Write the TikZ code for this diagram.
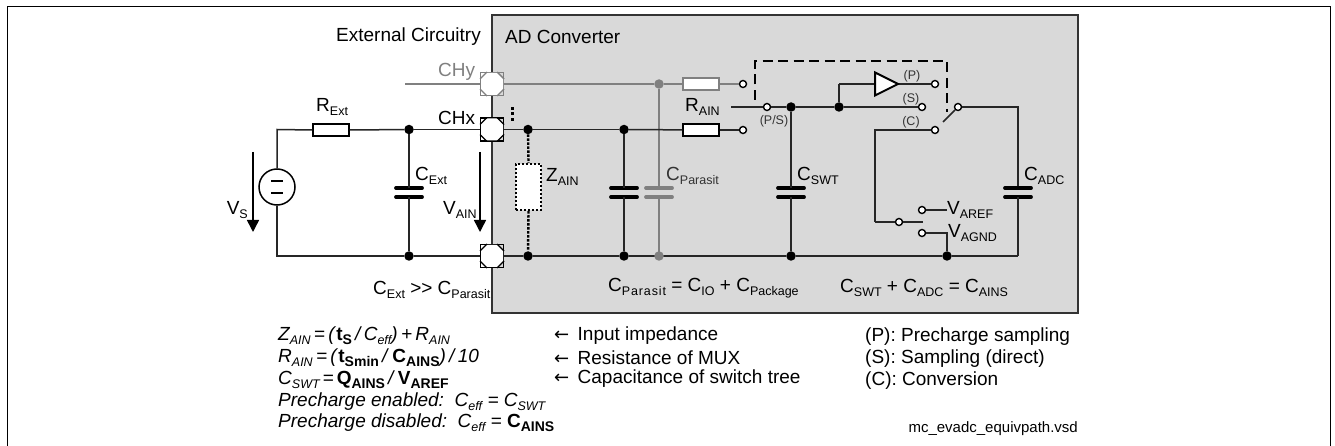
\documentclass[tikz,border=0pt]{standalone}
\usepackage{fontspec}
\setmainfont{Liberation Sans}
\newfontfamily\arrowfont{DejaVu Sans}
\usetikzlibrary{arrows.meta}
\definecolor{boxgray}{HTML}{D9D9D9}
\definecolor{wiregray}{HTML}{808080}
\newcommand{\fsmain}{\fontsize{19}{22}\selectfont}
\newcommand{\fssmall}{\fontsize{12.5}{14}\selectfont}
\newcommand{\sbs}[1]{\raisebox{-0.22em}{\fontsize{12.5}{14}\selectfont #1}}
\newcommand{\sbw}[1]{\raisebox{-0.22em}{\fontsize{12.5}{14}\selectfont\addfontfeatures{LetterSpace=7}#1}}
\newcommand{\ssb}[1]{\raisebox{-0.22em}{\fontsize{14}{14}\selectfont #1}}
\newcommand{\arr}{\makebox[23.5pt][l]{\arrowfont\fontsize{18}{20}\selectfont ←}}
\newcommand{\pinat}[4]{%
  \node[pinbox,draw=#4] (#1) at (#2,#3) {};
  \fill[white] (#2-11,#3-5) -- (#2-5,#3-11) -- (#2+5,#3-11) -- (#2+11,#3-5) -- (#2+11,#3+5) -- (#2+5,#3+11) -- (#2-5,#3+11) -- (#2-11,#3+5) -- cycle;
  \draw[line width=1.4pt,#4] (#2-12,#3-5) -- (#2-5,#3-12) (#2+5,#3-12) -- (#2+12,#3-5) (#2+12,#3+5) -- (#2+5,#3+12) (#2-5,#3+12) -- (#2-12,#3+5);
}
\newcommand{\capat}[5]{% name x ytop ybottom color: draws the two plates
  \coordinate (#1t) at (#2,#3);
  \coordinate (#1b) at (#2,#4);
  \draw[capplate,#5] (#2-13,#3) -- (#2+13,#3);
  \draw[capplate,#5] (#2-13,#4) -- (#2+13,#4);
}
\tikzset{
  x=1pt,y=-1pt,
  wire/.style={line width=1.5pt,black!85},
  graywire/.style={line width=1.5pt,wiregray},
  capplate/.style={line width=3.8pt,line cap=round},
  dotnode/.style={circle,fill=black,inner sep=0pt,minimum size=9.5pt},
  graydot/.style={circle,fill=wiregray,inner sep=0pt,minimum size=9.5pt},
  term/.style={circle,draw=black,fill=white,line width=1.4pt,inner sep=0pt,minimum size=7pt},
  res/.style={rectangle,draw=black,fill=white,line width=1.5pt,inner sep=0pt,minimum width=36pt,minimum height=12pt},
  pinbox/.style={rectangle,line width=1.5pt,inner sep=0pt,minimum size=23pt},
  txt/.style={inner sep=0pt,anchor=west,font=\fsmain},
  small/.style={inner sep=0pt,font=\fssmall,text=black!80},
  volt/.style={line width=1.5pt,-{Triangle[length=12pt,width=12pt]}},
  conn/.style={line width=2.4pt,dash pattern=on 2.4pt off 1.6pt},
  gang/.style={line width=2.4pt,dash pattern=on 10pt off 5.5pt},
}
\begin{document}
\begin{tikzpicture}
\useasboundingbox (0,0) rectangle (1335,446);
\fill[white] (0,0) rectangle (1335,446);
% frame
\coordinate (fbl) at (7,446); \coordinate (ftl) at (7,7); \coordinate (ftr) at (1330,7); \coordinate (fbr) at (1330,446);
\draw[line width=1pt] (fbl) -- (ftl) -- (ftr) -- (fbr);
% converter box
\node[draw=black!80,fill=boxgray,line width=1.3pt,inner sep=0pt,minimum width=586pt,minimum height=298pt] (adc) at (785,164) {};
% titles
\node[txt,anchor=east] (lext) at (481,37) {External Circuitry};
\node[txt] (ladc) at (505,37) {AD Converter};

% named points
\coordinate (blc) at (277,256);
\coordinate (tlc) at (277,129.5);
\coordinate (ctrlL) at (875,222);
\coordinate (ctrlT) at (875,130);
\coordinate (cadcT) at (1018,107);
\coordinate (cadcB) at (1018,256);
\coordinate (chyL) at (405,84);
\coordinate (g2c) at (659,256);

% gray channel
\node[graydot] (g1) at (659,84) {};
\node[term,draw=black] (tg) at (743,84) {};
\draw[graywire] (chyL) -- (492,84);
\pinat{chy}{492}{84}{wiregray}
\capat{cg}{659}{188}{197}{wiregray}
\node[txt,text=wiregray] (lchy) at (438,72) {CHy};
\draw[graywire] (chy.east) -- (g1);
\draw[graywire] (g1) -- (cgt);
\draw[graywire] (cgb) -- (g2c);
\node[res,draw=wiregray] (rg) at (701,84) {};
\draw[graywire] (g1) -- (rg);
\draw[graywire] (rg) -- (tg);

% external circuit
\pinat{chx}{492}{129.5}{black}
\pinat{pgnd}{492}{256}{black}
\node[res] (rext) at (331,130) {};
\node[dotnode] (n1) at (409,129.5) {};
\node[dotnode] (n2) at (409,256) {};
\node[circle,draw=black,fill=white,line width=1.5pt,inner sep=0pt,minimum size=36pt] (src) at (277,187) {};
\coordinate (mA1) at (271,181); \coordinate (mA2) at (283,181);
\coordinate (mB1) at (271,193); \coordinate (mB2) at (283,193);
\draw[line width=1.5pt] (mA1) -- (mA2) (mB1) -- (mB2);
\draw[wire] (src.north) -- (tlc) -- (rext.west);
\draw[wire] (rext.east) -- (n1);
\draw[wire] (n1) -- (chx.west);
\draw[wire] (src.south) -- (blc) -- (n2);
\draw[wire] (n2) -- (pgnd.west);
\capat{cx}{409}{188}{197}{black}
\draw[wire] (n1) -- (cxt);
\draw[wire] (cxb) -- (n2);
\node[txt] (lrext) at (316,107) {R\sbs{Ext}};
\node[txt] (lchx) at (438,118) {CHx};
\node[txt] (lcext) at (415,176) {C\sbs{Ext}};
\node[txt,anchor=east] (lvs) at (248,210) {V\sbs{S}};
\node[txt] (lvain) at (443,210) {V\sbs{AIN}};
\coordinate (vsT) at (253,152); \coordinate (vsB) at (253,232);
\coordinate (vaT) at (480,152); \coordinate (vaB) at (480,232);
\draw[volt] (vsT) -- (vsB);
\draw[volt] (vaT) -- (vaB);
\node[txt] (lratio) at (373,290) {C\sbs{Ext} \mbox{>}\mbox{>} C\sbs{Parasit}};

% converter input network
\node[dotnode] (n3) at (528,129.5) {};
\node[dotnode] (n4) at (528,256) {};
\node[dotnode] (n5) at (624,129.5) {};
\node[dotnode] (n6) at (624,256) {};
\node[dotnode] (n7) at (791,107) {};
\node[dotnode] (n8) at (791,256) {};
\node[dotnode] (n9) at (839,107) {};
\node[dotnode] (n10) at (947,256) {};
\node[rectangle,draw=black,fill=white,conn,dash pattern=on 2.4pt off 1.6pt,inner sep=0pt,minimum width=25pt,minimum height=46pt] (zain) at (528.5,187) {};
\draw[conn] (n3) -- (zain.north);
\draw[conn] (zain.south) -- (n4);
\node[res] (rain) at (701,130) {};
\node[term] (tr) at (743,130) {};
\draw[wire] (chx.east) -- (n3);
\draw[wire] (n3) -- (n5);
\draw[wire] (n5) -- (rain);
\draw[wire] (rain) -- (tr);
\draw[wire] (pgnd.east) -- (n4);
\draw[wire] (n4) -- (n6);
\draw[wire] (n6) -- (n8);
\draw[wire] (n8) -- (n10);
\draw[wire] (n10) -- (cadcB);
\node[graydot] (g2) at (g2c) {};
\capat{cp}{624}{188}{197}{black}
\draw[wire] (n5) -- (cpt);
\draw[wire] (cpb) -- (n6);
\foreach \yy in {107,112.5,118} {\fill (511,\yy) rectangle +(2.6,2.6);}
\node[txt] (lzain) at (546,177) {Z\sbs{AIN}};
\node[txt] (lrain) at (685,107) {R\sbs{AIN}};
\node[txt,text=black!80] (lcpar) at (666,176) {C\sbs{Parasit}};

% switch section
\coordinate (swL) at (731,107);
\node[term] (tps) at (767,107) {};
\node[term] (ts) at (922,107) {};
\node[term] (tp) at (935,84) {};
\node[term] (tc) at (935,130) {};
\node[term] (tarm) at (958,107) {};
\coordinate (armEnd) at (943,122);
\coordinate (ampUp) at (839,84);
\draw[wire] (swL) -- (tps);
\draw[wire] (tps) -- (n7);
\draw[wire] (n7) -- (n9);
\draw[wire] (n9) -- (ts);
\draw[wire] (n9) -- (ampUp);
\coordinate (ampIn) at (875,84);
\coordinate (ampOut) at (898,84);
\draw[wire] (ampUp) -- (ampIn);
\draw[wire] (ampOut) -- (tp);
\draw[line width=2pt,fill=white,line join=miter] (875,72.5) -- (ampOut) -- (875,95.5) -- cycle;
\draw[wire] (tarm) -- (armEnd);
\draw[wire] (tarm) -- (cadcT) -- (1018,188);
\capat{ca}{1018}{188}{197}{black}
\draw[wire] (cab) -- (cadcB);
\capat{cs}{791}{188}{197}{black}
\draw[wire] (n7) -- (cst);
\draw[wire] (csb) -- (n8);
\draw[wire] (tc) -- (ctrlT) -- (ctrlL);
\node[term] (tmid) at (899,222) {};
\coordinate (midEnd) at (923,222);
\draw[wire] (ctrlL) -- (tmid);
\draw[wire] (tmid) -- (midEnd);
\node[term] (tref) at (922,210) {};
\node[term] (tgnd) at (922,233) {};
\coordinate (refEnd) at (947,210);
\coordinate (gndEnd) at (947,233);
\draw[wire] (tref) -- (refEnd);
\draw[wire] (tgnd) -- (gndEnd) -- (n10);
\coordinate (dA) at (755,100); \coordinate (dB) at (755,61); \coordinate (dC) at (947,61); \coordinate (dD) at (947,112);
\draw[gang] (dA) -- (dB) -- (dC) -- (dD);
\node[small] (lp) at (912,76) {(P)};
\node[small] (ls) at (911,99) {(S)};
\node[small] (lc) at (911,122) {(C)};
\node[small] (lpps) at (774,121) {(P/S)};
\node[txt] (lcsw) at (797,176) {C\sbs{SWT}};
\node[txt] (lcadc) at (1024,176) {C\sbs{ADC}};
\node[txt] (lvref) at (947,210) {V\sbs{AREF}};
\node[txt] (lvgnd) at (948,233) {V\sbs{AGND}};
\node[txt] (leq1) at (608,288) {C\sbw{Parasit} = C\sbs{IO} + C\sbs{Package}};
\node[txt] (leq2) at (840,288) {C\sbs{SWT} + C\sbs{ADC} = C\sbs{AINS}};

% formulas
\node[txt,font=\fsmain\itshape] (f1) at (278,336) {\spaceskip=3.3pt Z\sbs{AIN} = (\textbf{\textup{t}}\ssb{\textbf{\textup{S}}} / C\sbs{eff}) + R\sbs{AIN}};
\node[txt,font=\fsmain\itshape] (f2) at (278,358) {\spaceskip=3.3pt R\sbs{AIN} = (\textbf{\textup{t}}\ssb{\textbf{\textup{Smin}}} / \textbf{\textup{C}}\ssb{\textbf{\textup{AINS}}}) / 10};
\node[txt,font=\fsmain\itshape] (f3) at (278,380) {\spaceskip=3pt C\sbs{SWT} = \textbf{\textup{Q}}\ssb{\textbf{\textup{AINS}}} / \textbf{\textup{V}}\ssb{\textbf{\textup{AREF}}}};
\node[txt,font=\fsmain\itshape] (f4) at (278,402) {Precharge enabled:\ \ C\sbs{eff} = C\sbs{SWT}};
\node[txt,font=\fsmain\itshape] (f5) at (278,423) {Precharge disabled:\ \ C\sbs{eff} = \textbf{\textup{C}}\ssb{\textbf{\textup{AINS}}}};
\node[txt] (m1) at (554,336) {\arr Input impedance};
\node[txt] (m2) at (554,358) {\arr Resistance of MUX};
\node[txt] (m3) at (554,379) {\arr Capacitance of switch tree};
\node[txt] (r1) at (865,337) {(P): Precharge sampling};
\node[txt] (r2) at (865,359) {(S): Sampling (direct)};
\node[txt] (r3) at (865,381) {(C): Conversion};
\node[txt,font=\fontsize{15}{17}\selectfont,anchor=east] (fn) at (1078,429) {mc\_evadc\_equivpath.vsd};
\end{tikzpicture}
\end{document}
